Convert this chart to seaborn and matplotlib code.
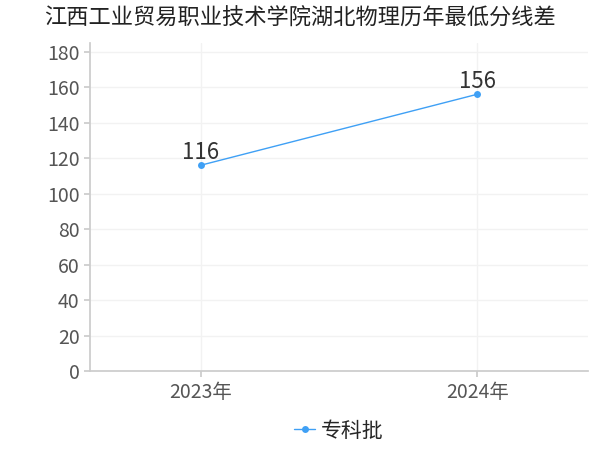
import matplotlib
matplotlib.use('Agg')
import matplotlib.pyplot as plt
import seaborn as sns
import pandas as pd

years = ['2023年', '2024年']
values = [116, 156]
series = '专科批'

sns.set_theme(style='white')
plt.rcParams['font.family'] = ['Noto Sans CJK SC', 'DejaVu Sans']

fig, ax = plt.subplots(figsize=(6, 4.5), dpi=100)
df = pd.DataFrame({'year': years, 'value': values, 's': series})
sns.lineplot(data=df, x='year', y='value', hue='s', palette=['#3fa0f5'], marker='o',
             markersize=5, markeredgewidth=0, linewidth=1, ax=ax)
for i, v in enumerate(values):
    ax.annotate(str(v), (i, v), xytext=(0, 1), textcoords='offset points', ha='center', va='bottom',
                fontsize=16, color='#333333')
ax.set_xlim(-0.4, 1.4)
ax.set_ylim(0, 185)
ax.set_yticks(range(0, 181, 20))
ax.grid(axis='y', color='#f2f2f2')
ax.grid(axis='x', color='#f2f2f2')
ax.set_xlabel(''); ax.set_ylabel('')
for s in ['top', 'right']:
    ax.spines[s].set_visible(False)
ax.spines['left'].set_color('#cccccc')
ax.spines['bottom'].set_color('#cccccc')
ax.tick_params(axis='both', labelsize=14, colors='#555555', length=4, color='#cccccc', left=True, bottom=True)
fig.suptitle('江西工业贸易职业技术学院湖北物理历年最低分线差', fontsize=16, color='#222222', x=0.5, y=0.985)
ax.legend(loc='upper center', bbox_to_anchor=(0.5, -0.09), frameon=False, fontsize=15,
          handlelength=1.0, handletextpad=0.3)
fig.subplots_adjust(left=0.15, right=0.98, top=0.905, bottom=0.175)
fig.savefig('out.png')
